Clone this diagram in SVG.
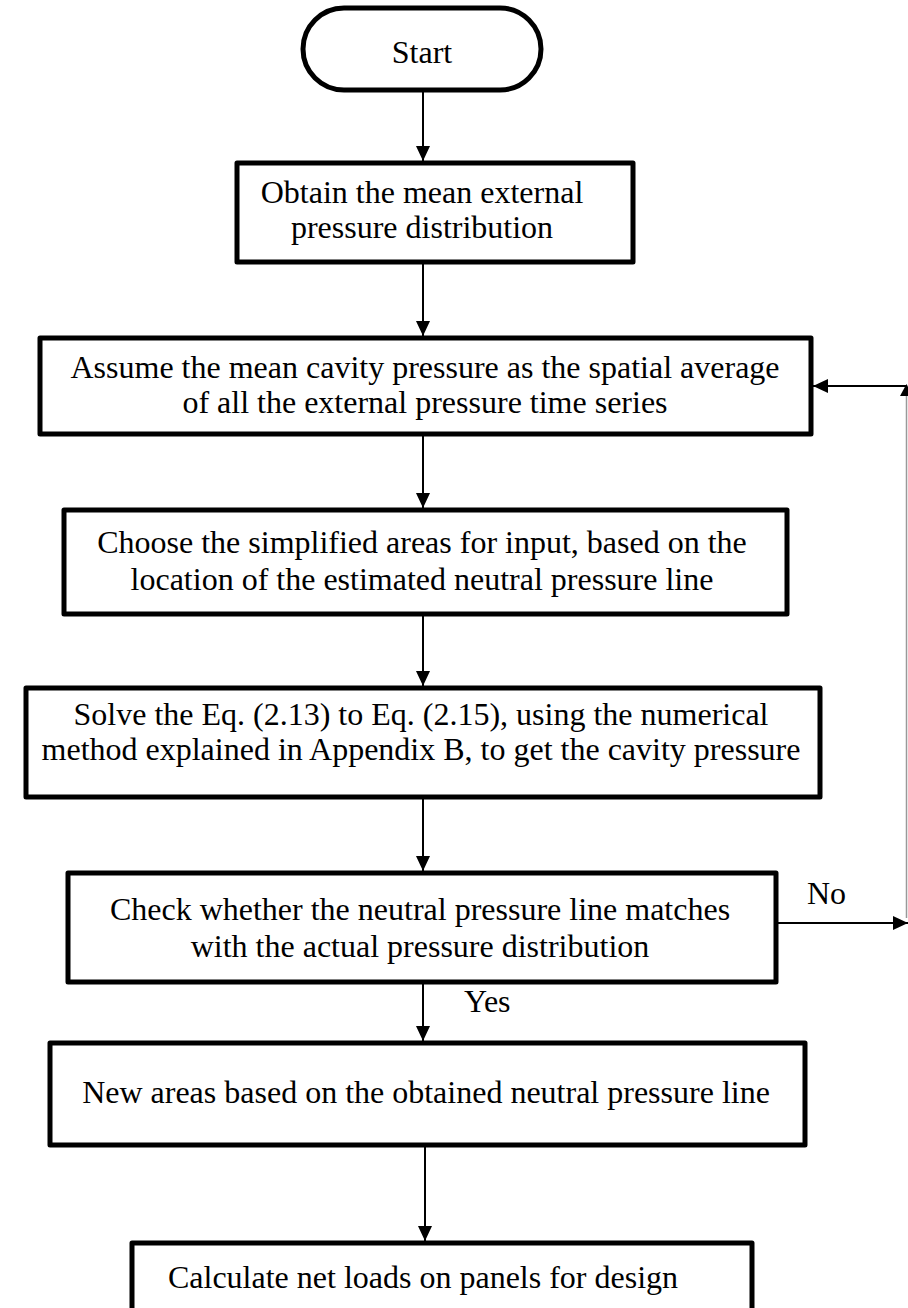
<svg xmlns="http://www.w3.org/2000/svg" width="908" height="1308" viewBox="0 0 908 1308">
<style>
.box{fill:#fff;stroke:#000;stroke-width:5;stroke-linejoin:round}
.t{font-family:"Liberation Serif","Times New Roman",serif;font-size:32px;fill:#000;text-anchor:middle}
.lbl{font-family:"Liberation Serif","Times New Roman",serif;font-size:32px;fill:#000}
.c{stroke:#000;stroke-width:2;fill:none}
</style>
<defs>
<marker id="ah" markerWidth="15" markerHeight="14" refX="15" refY="7" orient="auto" markerUnits="userSpaceOnUse">
<path d="M0,0 L15,7 L0,14 Z" fill="#000"/>
</marker>
</defs>
<rect width="908" height="1308" fill="#fff"/>
<g id="connectors">
<line class="c" x1="423" y1="90" x2="423" y2="161" marker-end="url(#ah)"/>
<line class="c" x1="423" y1="262" x2="423" y2="336" marker-end="url(#ah)"/>
<line class="c" x1="423" y1="434" x2="423" y2="508" marker-end="url(#ah)"/>
<line class="c" x1="423" y1="614" x2="423" y2="686" marker-end="url(#ah)"/>
<line class="c" x1="423" y1="797" x2="423" y2="871" marker-end="url(#ah)"/>
<line class="c" x1="423" y1="982" x2="423" y2="1041" marker-end="url(#ah)"/>
<line class="c" x1="425" y1="1145" x2="425" y2="1241" marker-end="url(#ah)"/>
<line class="c" x1="776" y1="923" x2="908" y2="923" marker-end="url(#ah)"/>
<line x1="906.5" y1="918" x2="906.5" y2="392" stroke="#999" stroke-width="1.5"/>
<path d="M906.5,384 L913,396 L900,396 Z" fill="#000"/>
<line class="c" x1="906" y1="386" x2="813" y2="386" marker-end="url(#ah)"/>
<text class="lbl" x="807" y="904">No</text>
<text class="lbl" x="464" y="1012">Yes</text>
</g>
<g id="start">
<rect class="box" x="303" y="8" width="238" height="82" rx="41" ry="41"/>
<text class="t" x="422" y="63">Start</text>
</g>
<g id="n1">
<rect class="box" x="237" y="163" width="396" height="99"/>
<text class="t" x="422" y="203">Obtain the mean external</text>
<text class="t" x="422" y="238">pressure distribution</text>
</g>
<g id="n2">
<rect class="box" x="40" y="338" width="771" height="96"/>
<text class="t" x="425" y="378">Assume the mean cavity pressure as the spatial average</text>
<text class="t" x="425" y="413">of all the external pressure time series</text>
</g>
<g id="n3">
<rect class="box" x="64" y="510" width="723" height="104"/>
<text class="t" x="422" y="553">Choose the simplified areas for input, based on the</text>
<text class="t" x="422" y="590">location of the estimated neutral pressure line</text>
</g>
<g id="n4">
<rect class="box" x="26" y="688" width="794" height="109"/>
<text class="t" x="421" y="725">Solve the Eq. (2.13) to Eq. (2.15), using the numerical</text>
<text class="t" x="421" y="760">method explained in Appendix B, to get the cavity pressure</text>
</g>
<g id="n5">
<rect class="box" x="68" y="873" width="708" height="109"/>
<text class="t" x="420" y="920">Check whether the neutral pressure line matches</text>
<text class="t" x="420" y="957">with the actual pressure distribution</text>
</g>
<g id="n6">
<rect class="box" x="50" y="1043" width="755" height="102"/>
<text class="t" x="426" y="1103">New areas based on the obtained neutral pressure line</text>
</g>
<g id="n7">
<rect class="box" x="132" y="1243" width="620" height="70"/>
<text class="t" x="423" y="1288">Calculate net loads on panels for design</text>
</g>
</svg>
